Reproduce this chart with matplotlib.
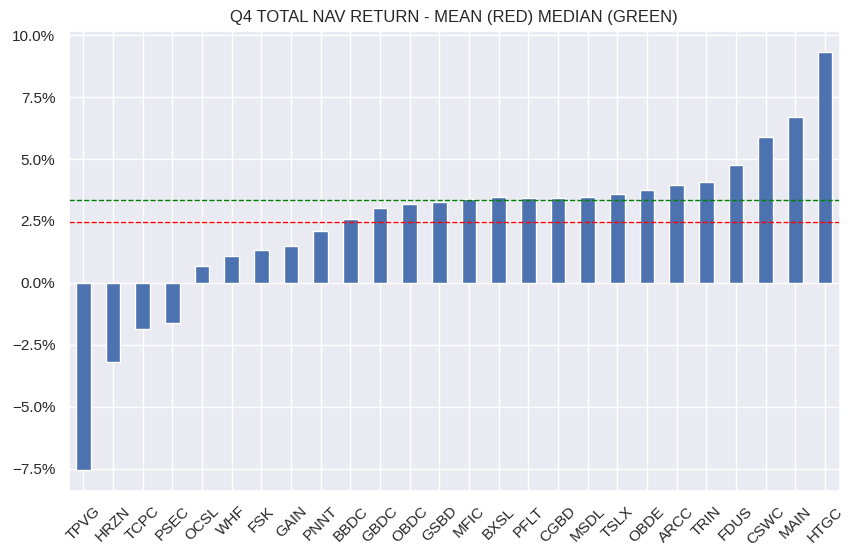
import pandas as pd
import matplotlib.pyplot as plt
import seaborn as sns
from matplotlib.ticker import PercentFormatter

sns.set_theme()
plt.rcParams['font.family'] = ['Liberation Sans', 'DejaVu Sans']

# Q4 total NAV return per ticker (%)
tickers = ["TPVG", "HRZN", "TCPC", "PSEC", "OCSL", "WHF", "FSK", "GAIN", "PNNT",
           "BBDC", "GBDC", "OBDC", "GSBD", "MFIC", "BXSL", "PFLT", "CGBD", "MSDL",
           "TSLX", "OBDE", "ARCC", "TRIN", "FDUS", "CSWC", "MAIN", "HTGC"]
nav_return = [-7.56, -3.20, -1.88, -1.61, 0.67, 1.07, 1.31, 1.50, 2.08,
              2.59, 3.04, 3.17, 3.25, 3.40, 3.45, 3.44, 3.44, 3.48,
              3.61, 3.76, 3.94, 4.08, 4.78, 5.91, 6.68, 9.34]
mean_val = 2.47
median_val = 3.36

s = pd.Series(nav_return, index=tickers)

fig, ax = plt.subplots(figsize=(8.57, 5.58), dpi=100)
s.plot(kind="bar", ax=ax, color="#4c72b0")
ax.axhline(mean_val, color="red", linestyle="--", linewidth=1)
ax.axhline(median_val, color="green", linestyle="--", linewidth=1)
ax.yaxis.set_major_formatter(PercentFormatter(decimals=1))
ax.set_title("Q4 TOTAL NAV RETURN - MEAN (RED) MEDIAN (GREEN)")
plt.xticks(rotation=45)
plt.subplots_adjust(left=0.08, right=0.98, top=0.945, bottom=0.12)
plt.savefig("out.png")
